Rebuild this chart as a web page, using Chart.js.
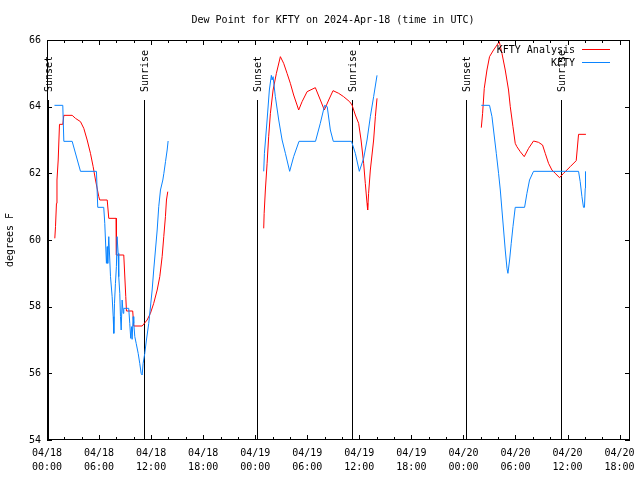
<!DOCTYPE html>
<html>
<head>
<meta charset="utf-8">
<script src="https://cdn.jsdelivr.net/npm/chart.js@4.4.1/dist/chart.umd.min.js"></script>
<style>
  html, body { margin: 0; padding: 0; background: #fff; }
</style>
</head>
<body>
<canvas id="dewPointChart" width="640" height="480"></canvas>
<script>
// time = hours since 04/18 00:00 UTC, null breaks the line between days
const analysisHours = [
  0.90, 0.98, 1.09, 1.15, 1.29, 1.44, 1.82, 1.94, 2.90, 3.28, 3.86, 4.24, 4.63, 5.01, 5.32, 5.59,
  5.97, 6.08, 6.94, 7.12, 7.97, 8.00, 8.85, 9.08, 9.16, 9.88, 10.00, 10.97, 11.54, 11.92, 12.30,
  12.70, 13.00, 13.27, 13.46, 13.65, 13.77, 13.92,
  null,
  24.98, 25.03, 25.17, 25.37, 25.55, 25.75, 26.06, 26.44, 26.90, 27.28, 27.67, 28.05, 28.43, 28.82,
  29.01, 29.40, 29.98, 30.93, 31.51, 31.97, 32.47, 32.97, 33.62, 34.19, 34.88, 35.16, 35.54, 35.92,
  36.20, 36.50, 36.69, 36.89, 36.96, 37.07, 37.27, 37.65, 37.85, 38.04,
  null,
  50.06, 50.21, 50.40, 50.71, 51.01, 51.47, 51.87, 52.13, 52.44, 52.82, 53.20, 53.40, 53.71, 53.97,
  54.16, 54.55, 55.01, 55.51, 56.08, 56.66, 57.12, 57.43, 57.81, 58.20, 58.58, 59.08, 59.54, 60.31,
  61.00, 61.27, 62.12
];
const analysisDew = [
  60.05, 60.4, 61.1, 61.8, 62.4, 63.47, 63.47, 63.74, 63.74, 63.65, 63.55, 63.35, 63.0, 62.6, 62.2, 61.8,
  61.3, 61.2, 61.2, 60.65, 60.65, 59.55, 59.55, 58.3, 57.87, 57.87, 57.42, 57.42, 57.6, 57.8, 58.1,
  58.5, 58.9, 59.5, 60.1, 60.7, 61.2, 61.45,
  null,
  60.35, 60.8, 61.5, 62.3, 63.1, 63.8, 64.5, 65.0, 65.5, 65.3, 65.0, 64.7, 64.35, 64.05,
  63.9, 64.15, 64.45, 64.57, 64.2, 63.9, 64.2, 64.48, 64.4, 64.3, 64.15, 64.05, 63.75, 63.5,
  63.0, 62.3, 61.7, 61.1, 60.9, 61.4, 62.1, 63.0, 63.7, 64.25,
  null,
  63.37, 63.8, 64.55, 65.1, 65.5, 65.7, 65.85, 65.95, 65.6, 65.1, 64.5, 64.0, 63.4, 62.9,
  62.8, 62.65, 62.5, 62.75, 62.97, 62.93, 62.85, 62.6, 62.3, 62.1, 62.0, 61.87, 62.0, 62.2,
  62.38, 63.17, 63.17
];

const obsHours = [
  0.86, 1.82, 1.94, 2.90, 3.86, 5.70, 5.85, 6.54, 6.66, 6.85, 6.94, 7.00, 7.12, 7.32, 7.51, 7.63,
  7.70, 7.78, 7.89, 8.00, 8.08, 8.20, 8.27, 8.39, 8.47, 8.55, 8.66, 8.78, 8.85, 9.42, 9.54, 9.65,
  9.75, 9.81, 9.93, 10.00, 10.12, 10.28, 10.51, 10.69, 10.85, 10.97, 11.08, 11.27, 11.46, 11.73,
  11.81, 12.12, 12.30, 12.50, 12.70, 12.88, 13.08, 13.35, 13.47, 13.66, 13.85, 13.96,
  null,
  24.98, 25.06, 25.37, 25.63, 25.86, 25.94, 26.06, 26.32, 26.71, 27.10, 27.48, 27.97, 28.43, 29.05,
  30.95, 31.50, 32.00, 32.30, 32.66, 33.00, 35.10, 35.54, 36.00, 36.50, 36.89, 37.27, 37.65, 38.04,
  null,
  50.06, 51.01, 51.29, 51.47, 51.79, 52.05, 52.25, 52.44, 52.63, 52.82, 53.02, 53.13, 53.32, 53.51,
  53.71, 53.97, 55.05, 55.32, 55.62, 56.08, 61.27, 61.46, 61.66, 61.84, 61.95, 62.04, 62.07
];
const obsDew = [
  64.04, 64.04, 62.96, 62.96, 62.06, 62.06, 60.98, 60.98, 60.5, 59.3, 59.8, 59.3, 60.1, 58.9, 58.3, 57.7,
  57.2, 58.1, 58.7, 59.2, 60.1, 59.6, 58.9, 58.4, 57.7, 57.3, 58.2, 57.8, 57.95, 57.95, 57.5, 57.05,
  57.4, 57.02, 57.7, 57.5, 57.1, 56.9, 56.6, 56.3, 56.0, 55.95, 56.3, 56.6, 57.0, 57.5,
  57.7, 58.5, 59.1, 59.7, 60.3, 61.0, 61.5, 61.8, 62.0, 62.35, 62.7, 62.97,
  null,
  62.06, 62.6, 63.6, 64.5, 64.94, 64.8, 64.9, 64.3, 63.6, 63.0, 62.6, 62.06, 62.5, 62.96,
  62.96, 63.5, 64.04, 64.0, 63.3, 62.96, 62.96, 62.6, 62.06, 62.45, 63.0, 63.7, 64.3, 64.94,
  null,
  64.04, 64.04, 63.7, 63.3, 62.6, 62.0, 61.5, 60.9, 60.3, 59.7, 59.15, 59.0, 59.4, 59.9,
  60.4, 60.98, 60.98, 61.4, 61.8, 62.06, 62.06, 61.75, 61.3, 60.98, 60.98, 61.55, 62.06
];

const sunEvents = ['Sunset', 'Sunrise', 'Sunset', 'Sunrise', 'Sunset', 'Sunrise'];
const sunHours = [0.1, 11.15, 24.2, 35.2, 48.3, 59.3];

const xTickLabels = [
  ['04/18', '00:00'], ['04/18', '06:00'], ['04/18', '12:00'], ['04/18', '18:00'],
  ['04/19', '00:00'], ['04/19', '06:00'], ['04/19', '12:00'], ['04/19', '18:00'],
  ['04/20', '00:00'], ['04/20', '06:00'], ['04/20', '12:00'], ['04/20', '18:00']
];

const FONT = '10px "DejaVu Sans Mono", "Liberation Mono", monospace';

function toPoints(hours, values) {
  return hours.map((h, i) => ({ x: h, y: values[i] }));
}

// gnuplot style: box, inward ticks, sun markers, title and key
const gnuplotLook = {
  id: 'gnuplotLook',
  beforeDatasetsDraw(chart) {
    const { ctx, chartArea: a, scales } = chart;
    const h = a.bottom - a.top;
    ctx.save();
    ctx.strokeStyle = '#000';
    ctx.fillStyle = '#000';
    ctx.lineWidth = 1;
    ctx.font = FONT;
    sunHours.forEach((t, i) => {
      const px = Math.round(scales.x.getPixelForValue(t)) + 0.5;
      ctx.beginPath();
      ctx.moveTo(px, a.bottom - 0.85 * h);
      ctx.lineTo(px, a.bottom);
      ctx.stroke();
      ctx.save();
      ctx.translate(px + 1, a.bottom - 0.87 * h);
      ctx.rotate(-Math.PI / 2);
      ctx.textAlign = 'left';
      ctx.textBaseline = 'middle';
      ctx.fillText(sunEvents[i], 0, 0);
      ctx.restore();
    });
    ctx.restore();
  },
  afterDraw(chart) {
    const { ctx, chartArea: a, scales } = chart;
    ctx.save();
    ctx.strokeStyle = '#000';
    ctx.fillStyle = '#000';
    ctx.lineWidth = 1;
    ctx.strokeRect(a.left + 0.5, a.top + 0.5, a.right - a.left - 1, a.bottom - a.top - 1);

    ctx.beginPath();
    scales.x.ticks.forEach((tk) => {
      const px = Math.round(scales.x.getPixelForValue(tk.value)) + 0.5;
      const len = tk.value % 6 === 0 ? 5 : 3;
      ctx.moveTo(px, a.bottom);
      ctx.lineTo(px, a.bottom - len);
      ctx.moveTo(px, a.top);
      ctx.lineTo(px, a.top + len);
    });
    scales.y.ticks.forEach((tk) => {
      const py = Math.round(scales.y.getPixelForValue(tk.value)) + 0.5;
      ctx.moveTo(a.left, py);
      ctx.lineTo(a.left + 5, py);
      ctx.moveTo(a.right, py);
      ctx.lineTo(a.right - 5, py);
    });
    ctx.stroke();

    ctx.font = FONT;
    ctx.textBaseline = 'middle';
    ctx.textAlign = 'center';
    ctx.fillText('Dew Point for KFTY on 2024-Apr-18 (time in UTC)', 333, 20);

    // key, top right inside the plot
    ctx.textAlign = 'right';
    chart.data.datasets.forEach((ds, i) => {
      const y = 50 + i * 13;
      ctx.fillStyle = '#000';
      ctx.fillText(ds.label, 575, y);
      ctx.strokeStyle = ds.borderColor;
      ctx.beginPath();
      ctx.moveTo(582, y - 0.5);
      ctx.lineTo(610, y - 0.5);
      ctx.stroke();
    });
    ctx.restore();
  }
};

const ctx = document.getElementById('dewPointChart').getContext('2d');
new Chart(ctx, {
  type: 'line',
  data: {
    datasets: [
      {
        label: 'KFTY Analysis',
        data: toPoints(analysisHours, analysisDew),
        borderColor: '#ff0000',
        borderWidth: 1,
        pointRadius: 0,
        tension: 0,
        spanGaps: false,
        order: 1
      },
      {
        label: 'KFTY',
        data: toPoints(obsHours, obsDew),
        borderColor: '#0a84ff',
        borderWidth: 1,
        pointRadius: 0,
        tension: 0,
        spanGaps: false,
        order: 0
      }
    ]
  },
  options: {
    responsive: false,
    animation: false,
    layout: { padding: { top: 40, right: 10, left: 0, bottom: 0 } },
    plugins: {
      legend: { display: false },
      title: { display: false },
      tooltip: { enabled: false }
    },
    scales: {
      x: {
        type: 'linear',
        min: 0,
        max: 67.2,
        grid: { display: false, drawTicks: false },
        border: { display: false },
        ticks: {
          stepSize: 2,
          includeBounds: false,
          autoSkip: false,
          maxRotation: 0,
          padding: 7,
          color: '#000',
          font: { family: '"DejaVu Sans Mono", monospace', size: 10, lineHeight: 1.35 },
          callback: (v) => (v % 6 === 0 ? xTickLabels[v / 6] : '')
        },
        afterFit: (s) => {
          s.height = 40;
          s.paddingLeft = 0;
          s.paddingRight = 0;
        }
      },
      y: {
        min: 54,
        max: 66,
        grid: { display: false, drawTicks: false },
        border: { display: false },
        ticks: {
          stepSize: 2,
          padding: 6,
          color: '#000',
          font: { family: '"DejaVu Sans Mono", monospace', size: 10 }
        },
        title: {
          display: true,
          text: 'degrees F',
          color: '#000',
          padding: { top: 4, bottom: 4 },
          font: { family: '"DejaVu Sans Mono", monospace', size: 10 }
        },
        afterFit: (s) => {
          s.width = 47;
          s.paddingTop = 0;
          s.paddingBottom = 0;
        }
      }
    }
  },
  plugins: [gnuplotLook]
});
</script>
</body>
</html>
